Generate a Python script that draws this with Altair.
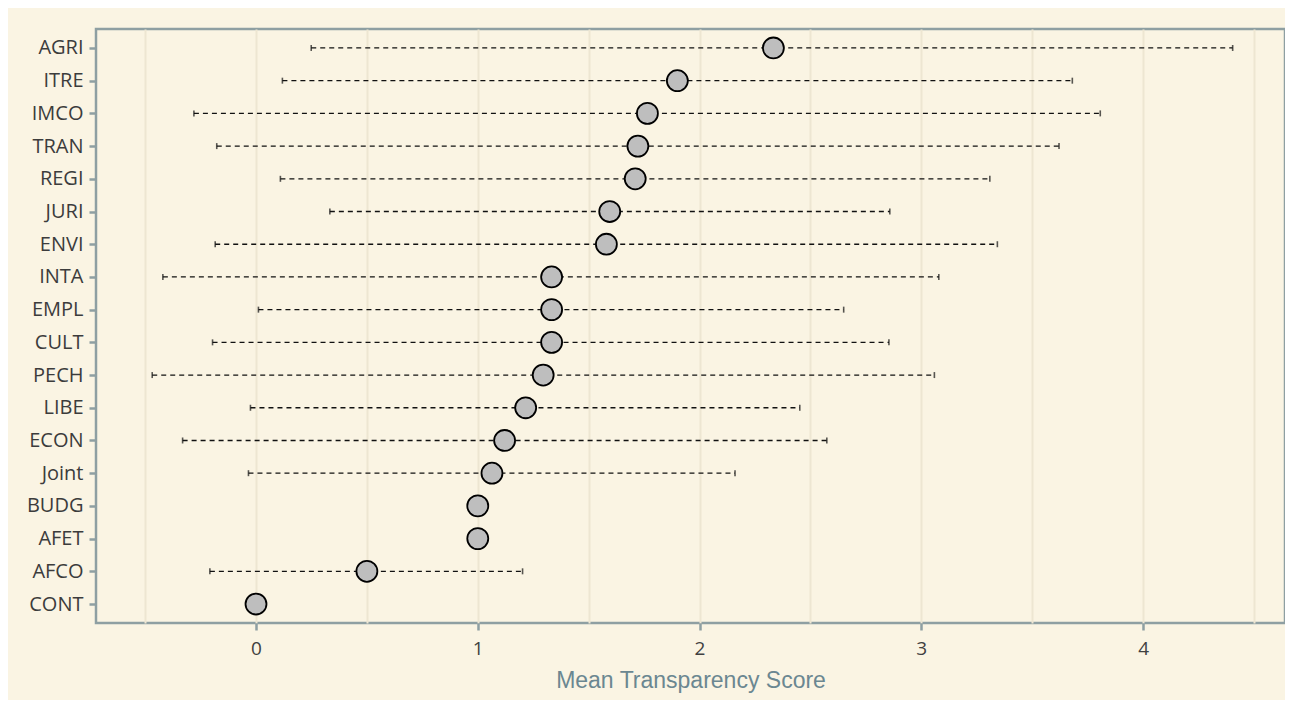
import altair as alt
import pandas as pd

committees = ["AGRI", "ITRE", "IMCO", "TRAN", "REGI", "JURI", "ENVI", "INTA", "EMPL",
              "CULT", "PECH", "LIBE", "ECON", "Joint", "BUDG", "AFET", "AFCO", "CONT"]
means = [2.333, 1.90, 1.765, 1.722, 1.71, 1.595, 1.58, 1.333, 1.333,
         1.333, 1.295, 1.216, 1.121, 1.064, 1.0, 1.0, 0.5, 0.0]
lows = [0.249, 0.119, -0.280, -0.177, 0.110, 0.333, -0.184, -0.420, 0.011,
        -0.196, -0.468, -0.025, -0.331, -0.034, None, None, -0.208, None]
highs = [4.404, 3.681, 3.807, 3.621, 3.309, 2.858, 3.343, 3.079, 2.650,
         2.854, 3.059, 2.452, 2.574, 2.160, None, None, 1.202, None]

df = pd.DataFrame({"committee": committees, "mean": means, "lo": lows, "hi": highs})
rng = df.dropna()

grid_vals = [-0.5, 0, 0.5, 1, 1.5, 2, 2.5, 3, 3.5, 4, 4.5]
border = "#8E9FA2"
lab_font = "Open Sans"

x_scale = alt.Scale(domain=[-0.7215, 4.640], nice=False, zero=False)
y_enc = alt.Y("committee:N", sort=committees,
              scale=alt.Scale(type="point", padding=0.58),
              axis=alt.Axis(title=None, labelFont=lab_font, labelFontSize=20,
                            labelColor="#3c3c3c", tickColor=border, tickSize=7,
                            tickWidth=2.5, labelPadding=6, domain=False, grid=False))

x_axis = alt.Axis(title="Mean Transparency Score", values=grid_vals,
                  labelExpr="datum.value % 1 === 0 ? format(datum.value, 'd') : ''",
                  labelFont=lab_font, labelFontSize=19, labelColor="#404040",
                  tickColor=border, tickWidth=2.5, tickSize=7,
                  tickOpacity={"condition": {"test": "datum.value % 1 !== 0", "value": 0}, "value": 1},
                  labelPadding=9, domain=False,
                  grid=True, gridColor="#EDE6D2", gridWidth=2,
                  titleFont="Liberation Sans", titleFontSize=23, titleFontWeight="normal",
                  titleColor="#6B8791", titlePadding=11)

base = alt.Chart(df)

lines = alt.Chart(rng).mark_rule(color="#111111", strokeWidth=1.3, strokeDash=[5, 4]).encode(
    x=alt.X("lo:Q", scale=x_scale, axis=x_axis), x2="hi:Q", y=y_enc)
lo_ticks = alt.Chart(rng).mark_tick(color="#111111", size=6, thickness=1.6, orient="vertical").encode(
    x=alt.X("lo:Q", scale=x_scale), y=y_enc)
hi_ticks = alt.Chart(rng).mark_tick(color="#111111", size=6, thickness=1.6, orient="vertical").encode(
    x=alt.X("hi:Q", scale=x_scale), y=y_enc)
points = base.mark_point(filled=True, shape="circle", size=440, fill="#BEBEBE",
                         stroke="#000000", strokeWidth=1.8, opacity=1, fillOpacity=1).encode(
    x=alt.X("mean:Q", scale=x_scale), y=y_enc)

chart = alt.layer(lines, lo_ticks, hi_ticks, points).properties(
    width=1189, height=594,
    autosize=alt.AutoSizeParams(type="none"),
    padding={"left": 88, "top": 21, "right": 0, "bottom": 77},
    background="#FAF4E3",
).configure_view(stroke=border, strokeWidth=2.5)

chart.save("out.html", embed_options={"renderer": "svg", "actions": False})
